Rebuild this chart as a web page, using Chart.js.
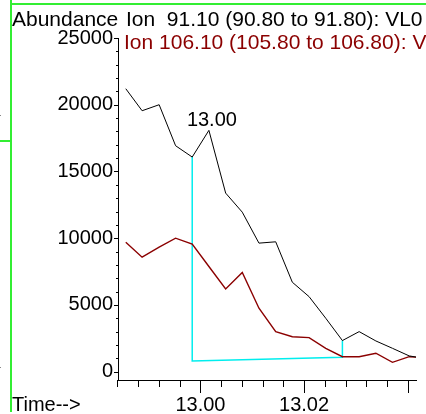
<!DOCTYPE html>
<html>
<head>
<meta charset="utf-8">
<script src="https://cdn.jsdelivr.net/npm/chart.js@4.4.1/dist/chart.umd.min.js"></script>
<style>
  html, body { margin: 0; padding: 0; background: #fff; }
  canvas { display: block; }
</style>
</head>
<body>
<canvas id="chrom" width="426" height="414"></canvas>
<script>
// retention time (min) and abundance for the two extracted ions
var times = [12.9856, 12.98875, 12.99204, 12.99521, 12.99842, 13.00164, 13.00487, 13.00808, 13.0113,
  13.01453, 13.01774, 13.02097, 13.02419, 13.0274, 13.03063, 13.03386, 13.03706, 13.04029, 13.0435];
var ion91 = [21200, 19550, 20000, 16930, 16080, 18080, 13380, 11950, 9630,
  9730, 6700, 5620, 4000, 2330, 3000, 2300, 1750, 1180, 970];
var ion106 = [9700, 8580, 9330, 10000, 9560, 7880, 6200, 7430, 4750,
  3000, 2620, 2550, 1750, 1120, 1120, 1380, 700, 1120, 1050];

// integration baseline
var baseTimes = [12.99842, 12.99842, 13.0274, 13.0274];
var baseVals = [16080, 800, 1080, 2330];

var peakLabel = "13.00";
var peakIndex = 5;
var yTicks = [0, 5000, 10000, 15000, 20000, 25000];
var xTicks = [13.00, 13.02];
var ion91Label = "Ion  91.10 (90.80 to 91.80): VL0";
var ion106Label = "Ion 106.10 (105.80 to 106.80): VL0";

var FONT = "Liberation Sans, Arial, sans-serif";
var RED = "#8b0000";

function pts(xs, ys) {
  return xs.map(function (x, i) { return { x: x, y: ys[i] }; });
}

var extras = {
  id: "extras",
  afterDraw: function (chart) {
    var c = chart.ctx;
    var xs = chart.scales.x, ys = chart.scales.y;
    var a = chart.chartArea;
    c.save();

    // tick marks
    c.strokeStyle = "#000";
    c.lineWidth = 1;
    c.beginPath();
    for (var v = 0; v <= 25000; v += 1000) {
      var py = Math.round(ys.getPixelForValue(v)) + 0.5;
      var len = v % 5000 === 0 ? 4 : 2;
      c.moveTo(a.left - len, py);
      c.lineTo(a.left, py);
    }
    for (var i = 0; i < 15; i++) {
      var t = 12.984 + i * 0.004;
      var px = Math.round(xs.getPixelForValue(t)) + 0.5;
      var k = (t - 13) / 0.02;
      var major = Math.abs(k - Math.round(k)) < 1e-6;
      c.moveTo(px, a.bottom);
      c.lineTo(px, a.bottom + (major ? 13 : 7));
    }
    c.stroke();

    // texts
    c.font = "21px " + FONT;
    c.textBaseline = "alphabetic";
    c.textAlign = "left";
    c.fillStyle = "#000";
    c.fillText("Abundance", 12, 26);
    c.fillText(ion91Label, 126, 26);
    c.font = "20px " + FONT;
    c.fillText("Time-->", 12, 411);
    c.font = "21px " + FONT;
    c.fillStyle = RED;
    c.fillText(ion106Label, 124, 49);

    // peak label
    c.font = "20px " + FONT;
    c.fillStyle = "#000";
    c.textAlign = "center";
    c.fillText(peakLabel, xs.getPixelForValue(times[peakIndex]) + 3, ys.getPixelForValue(ion91[peakIndex]) - 4);

    // frame lines
    c.fillStyle = "#33ee33";
    c.fillRect(10, 0, 2, 412);
    c.fillRect(11, 3, 415, 2);
    c.fillRect(0, 140, 11, 2);
    c.fillStyle = "#888";
    c.fillRect(0, 115, 1, 1);
    c.fillRect(0, 367, 1, 1);
    c.restore();
  }
};

new Chart(document.getElementById("chrom").getContext("2d"), {
  type: "line",
  data: {
    datasets: [
      { data: pts(times, ion91), borderColor: "#000", borderWidth: 1 },
      { data: pts(times, ion106), borderColor: RED, borderWidth: 1.4 },
      { data: pts(baseTimes, baseVals), borderColor: "#00eeee", borderWidth: 1.5 }
    ]
  },
  options: {
    responsive: false,
    animation: false,
    layout: { padding: { left: 12, top: 38, right: 10, bottom: 0 } },
    elements: { point: { radius: 0 }, line: { tension: 0 } },
    plugins: { legend: { display: false }, tooltip: { enabled: false } },
    scales: {
      x: {
        type: "linear",
        min: 12.9841,
        max: 13.0416,
        afterFit: function (s) { s.height = 34; },
        afterBuildTicks: function (s) { s.ticks = xTicks.map(function (v) { return { value: v }; }); },
        ticks: {
          color: "#000",
          font: { family: FONT, size: 20 },
          padding: 9,
          maxRotation: 0,
          callback: function (v) { return Number(v).toFixed(2); }
        },
        grid: { drawOnChartArea: false, color: "transparent", tickLength: 4 },
        border: { color: "#000", width: 1 }
      },
      y: {
        min: -625,
        max: 25000,
        afterFit: function (s) { s.width = 106; },
        afterBuildTicks: function (s) { s.ticks = yTicks.map(function (v) { return { value: v }; }); },
        ticks: {
          color: "#000",
          font: { family: FONT, size: 20 },
          padding: 1,
          callback: function (v) { return String(v); }
        },
        grid: { drawOnChartArea: false, color: "transparent", tickLength: 4 },
        border: { color: "#000", width: 1 }
      }
    }
  },
  plugins: [extras]
});
</script>
</body>
</html>
